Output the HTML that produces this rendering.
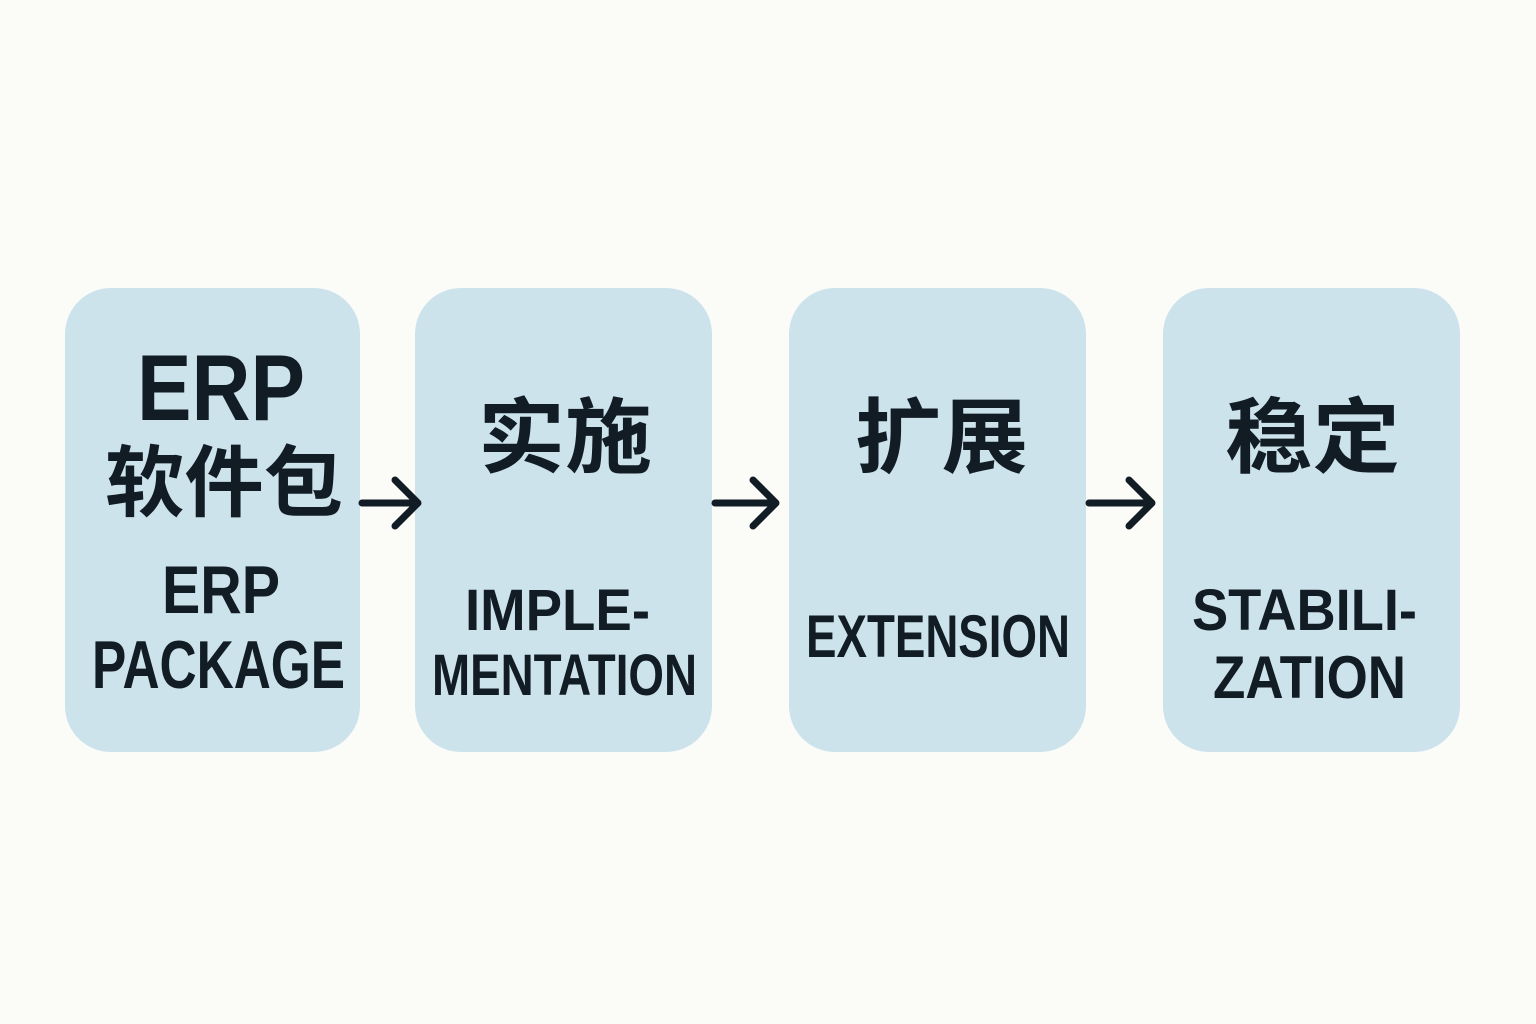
<!DOCTYPE html>
<html><head><meta charset="utf-8"><style>
html,body{margin:0;padding:0;background:#fbfbf8;}
svg{display:block}
text{font-family:"Liberation Sans","Noto Sans CJK SC",sans-serif;font-weight:bold;fill:#121c25;}
</style></head><body>
<svg width="1536" height="1024" viewBox="0 0 1536 1024" xmlns="http://www.w3.org/2000/svg">
<rect width="1536" height="1024" fill="#fbfbf8"/>
<g fill="#cde3ec">
<rect x="65" y="288" width="295" height="464" rx="46"/>
<rect x="415" y="288" width="297" height="464" rx="46"/>
<rect x="789" y="288" width="297" height="464" rx="46"/>
<rect x="1163" y="288" width="297" height="464" rx="46"/>
</g>
<g stroke="#121c25" stroke-width="7" fill="none" stroke-linecap="round" stroke-linejoin="round">
<line x1="362" y1="503" x2="416" y2="503"/><polyline points="395,480 418,503 395,526"/>
<line x1="715" y1="503" x2="774" y2="503"/><polyline points="753,480 776,503 753,526"/>
<line x1="1089" y1="503" x2="1150" y2="503"/><polyline points="1129,480 1152,503 1129,526"/>
</g>
<text x="137" y="420" font-size="94" textLength="168" lengthAdjust="spacingAndGlyphs">ERP</text>
<text x="105" y="510" font-size="78" font-family="Noto Sans CJK SC" textLength="238" lengthAdjust="spacingAndGlyphs">软件包</text>
<text x="162" y="613" font-size="68" textLength="118" lengthAdjust="spacingAndGlyphs">ERP</text>
<text x="92" y="688" font-size="68" textLength="253" lengthAdjust="spacingAndGlyphs">PACKAGE</text>
<text x="478" y="466" font-size="82" textLength="174" lengthAdjust="spacingAndGlyphs">实施</text>
<text x="465" y="630" font-size="58" textLength="185" lengthAdjust="spacingAndGlyphs">IMPLE-</text>
<text x="432" y="695" font-size="58" textLength="265" lengthAdjust="spacingAndGlyphs">MENTATION</text>
<text x="855" y="466" font-size="82" textLength="173" lengthAdjust="spacingAndGlyphs">扩展</text>
<text x="806" y="657" font-size="60" textLength="264" lengthAdjust="spacingAndGlyphs">EXTENSION</text>
<text x="1225" y="466" font-size="82" textLength="175" lengthAdjust="spacingAndGlyphs">稳定</text>
<text x="1192" y="630" font-size="58" textLength="225" lengthAdjust="spacingAndGlyphs">STABILI-</text>
<text x="1213" y="698" font-size="60" textLength="193" lengthAdjust="spacingAndGlyphs">ZATION</text>
</svg>
</body></html>
